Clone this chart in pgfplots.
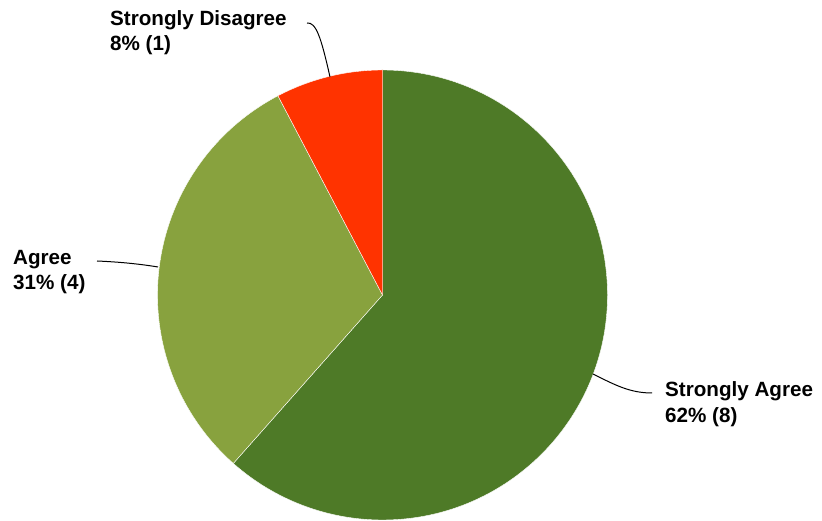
\documentclass[border=0pt]{standalone}
\usepackage{pgfplots}
\usepackage{pgfplotstable}
\pgfplotsset{compat=1.18}
\usepackage{fontspec}
\setmainfont{Liberation Sans}
\definecolor{sagree}{RGB}{78,122,39}
\definecolor{agree}{RGB}{136,162,62}
\definecolor{sdis}{RGB}{255,51,0}
\pgfplotstableread{
count
8
4
1
}\piedata
\begin{document}
\begin{tikzpicture}
\begin{axis}[width=822bp,height=521bp,scale only axis,xmin=0,xmax=822,ymin=0,ymax=521,hide axis,clip=false]
\pgfplotstablegetelem{0}{count}\of\piedata \let\va\pgfplotsretval
\pgfplotstablegetelem{1}{count}\of\piedata \let\vb\pgfplotsretval
\pgfplotstablegetelem{2}{count}\of\piedata \let\vc\pgfplotsretval
\pgfmathsetmacro{\tot}{\va+\vb+\vc}
\pgfmathsetmacro{\aA}{90-360*\va/\tot}
\pgfmathsetmacro{\aB}{\aA-360*\vb/\tot}
\path (rel axis cs:0,0) rectangle (rel axis cs:1,1);
\fill[sagree,draw=white,line width=0.4pt] (axis cs:382.5,226) -- ++(90:225bp) arc[start angle=90,end angle=\aA,radius=225bp] -- cycle;
\fill[agree,draw=white,line width=0.4pt] (axis cs:382.5,226) -- ++(\aA:225bp) arc[start angle=\aA,end angle=\aB,radius=225bp] -- cycle;
\fill[sdis,draw=white,line width=0.4pt] (axis cs:382.5,226) -- ++(\aB:225bp) arc[start angle=\aB,end angle=-270,radius=225bp] -- cycle;
% leader lines
\draw[black,line width=1pt] (axis cs:307,498) .. controls (axis cs:316,499) and (axis cs:321,484) .. (axis cs:330,444);
\draw[black,line width=1pt] (axis cs:97,260) .. controls (axis cs:120,259) and (axis cs:140,257) .. (axis cs:158,254);
\draw[black,line width=1pt] (axis cs:593,147) .. controls (axis cs:615,136) and (axis cs:630,128) .. (axis cs:652,128);
% labels
\tikzset{lbl/.style={anchor=base west,inner sep=0pt,font=\bfseries\fontsize{20.7}{24.5}\selectfont}}
\node[lbl] at (axis cs:110,495) {Strongly Disagree};
\node[lbl] at (axis cs:110,470) {8\% (1)};
\node[lbl] at (axis cs:13,256) {Agree};
\node[lbl] at (axis cs:13,231) {31\% (4)};
\node[lbl] at (axis cs:665,124) {Strongly Agree};
\node[lbl] at (axis cs:665,98) {62\% (8)};
\end{axis}
\end{tikzpicture}
\end{document}
